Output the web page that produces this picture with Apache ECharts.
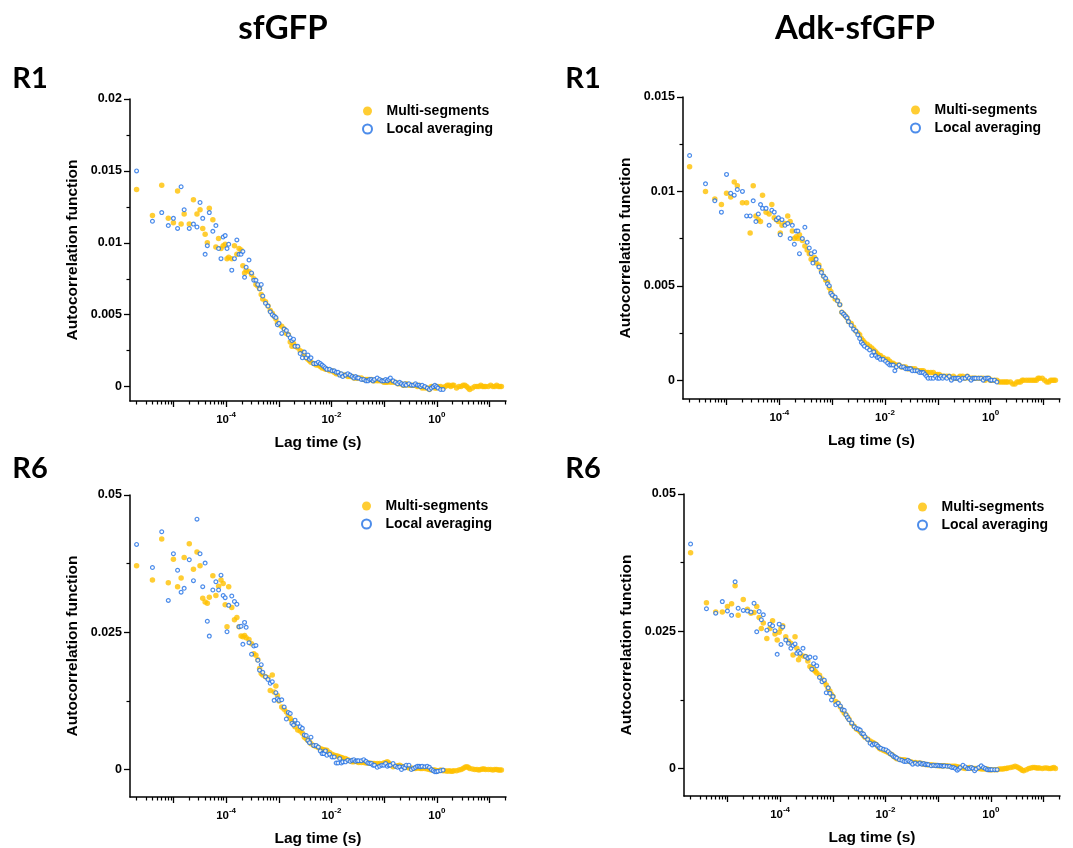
<!DOCTYPE html>
<html>
<head>
<meta charset="utf-8">
<script src="https://cdn.jsdelivr.net/npm/echarts@6/dist/echarts.min.js"></script>
<style>
html, body { margin: 0; padding: 0; background: #fff; }
#chart { width: 1073px; height: 848px; }
</style>
</head>
<body>
<div id="chart"></div>
<script>
// lag times of the correlator, in microseconds (8 channels per octave)
const lagMicros = [
    2, 4, 6, 8, 10, 12, 14, 16,
    20, 24, 28, 32, 36, 40, 44, 48,
    56, 64, 72, 80, 88, 96, 104, 112,
    128, 144, 160, 176, 192, 208, 224, 240,
    272, 304, 336, 368, 400, 432, 464, 496,
    560, 624, 688, 752, 816, 880, 944, 1008,
    1136, 1264, 1392, 1520, 1648, 1776, 1904, 2032,
    2288, 2544, 2800, 3056, 3312, 3568, 3824, 4080,
    4592, 5104, 5616, 6128, 6640, 7152, 7664, 8176,
    9200, 10224, 11248, 12272, 13296, 14320, 15344, 16368,
    18416, 20464, 22512, 24560, 26608, 28656, 30704, 32752,
    36848, 40944, 45040, 49136, 53232, 57328, 61424, 65520,
    73712, 81904, 90096, 98288, 106480, 114672, 122864, 131056,
    147440, 163824, 180208, 196592, 212976, 229360, 245744, 262128,
    294896, 327664, 360432, 393200, 425968, 458736, 491504, 524272,
    589808, 655344, 720880, 786416, 851952, 917488, 983024, 1048560,
    1179632, 1310704, 1441776, 1572848, 1703920, 1834992, 1966064, 2097136,
    2359280, 2621424, 2883568, 3145712, 3407856, 3670000, 3932144, 4194288,
    4718576, 5242864, 5767152, 6291440, 6815728, 7340016, 7864304, 8388592,
    9437168, 10485744, 11534320, 12582896, 13631472, 14680048, 15728624, 16777200
];

// sfGFP R1
const multiSfR1 = [
    0.0137, 0.0119, 0.0140, 0.0117, 0.0114, 0.0136, 0.0113, 0.0120,
    0.0113, 0.0130, 0.0120, 0.0123, 0.0110, 0.0106, 0.0100, 0.0124,
    0.0116, 0.0097, 0.0103, 0.0096, 0.0098, 0.0099, 0.0089, 0.0090,
    0.0089, 0.0098, 0.0092, 0.0096, 0.0095, 0.0084, 0.0079, 0.0081,
    0.0080, 0.0078, 0.0075, 0.0071, 0.0070, 0.0068, 0.0064, 0.0061,
    0.0059, 0.0056, 0.0053, 0.0051, 0.0049, 0.0047, 0.0044, 0.0043,
    0.0042, 0.0040, 0.0037, 0.0036, 0.0031, 0.0028, 0.0030, 0.0028,
    0.0027, 0.0025, 0.0024, 0.0022, 0.0020, 0.0019, 0.0018, 0.0017,
    0.0016, 0.0015, 0.0015, 0.0014, 0.0013, 0.0013, 0.0012, 0.0012,
    0.0011, 0.0011, 0.0010, 0.0009, 0.0009, 0.0009, 0.0008, 0.0008,
    0.0008, 0.0007, 0.0007, 0.0007, 0.0006, 0.0006, 0.0006, 0.0006,
    0.0006, 0.0005, 0.0005, 0.0005, 0.0005, 0.0005, 0.0004, 0.0004,
    0.0004, 0.0004, 0.0004, 0.0003, 0.0003, 0.0003, 0.0004, 0.0003,
    0.0003, 0.0003, 0.0002, 0.0002, 0.0002, 0.0001, 0.0001, 0.0002,
    0.0001, 0.0001, 0.0001, 0.0001, 0.0000, 0.0001, 0.0000, -0.0001,
    -0.0001, -0.0001, -0.0002, 0.0000, 0.0000, -0.0001, -0.0001, 0.0000,
    0.0000, -0.0001, 0.0000, 0.0001, 0.0001, 0.0000, 0.0001, 0.0001,
    -0.0001, 0.0000, 0.0000, 0.0001, 0.0001, 0.0000, -0.0001, -0.0002,
    -0.0001, 0.0000, 0.0000, 0.0000, 0.0001, 0.0000, 0.0000, 0.0000,
    0.0000, 0.0001, 0.0000, 0.0000, 0.0001, 0.0000, 0.0000, 0.0000
];
const localSfR1 = [
    0.0150, 0.0115, 0.0121, 0.0112, 0.0117, 0.0110, 0.0139, 0.0123,
    0.0110, 0.0113, 0.0111, 0.0128, 0.0117, 0.0092, 0.0098, 0.0121,
    0.0108, 0.0112, 0.0096, 0.0089, 0.0104, 0.0105, 0.0096, 0.0099,
    0.0081, 0.0089, 0.0102, 0.0092, 0.0092, 0.0094, 0.0076, 0.0083,
    0.0088, 0.0079, 0.0074, 0.0074, 0.0071, 0.0068, 0.0071, 0.0063,
    0.0058, 0.0056, 0.0052, 0.0050, 0.0049, 0.0048, 0.0043, 0.0044,
    0.0037, 0.0040, 0.0039, 0.0036, 0.0034, 0.0032, 0.0033, 0.0028,
    0.0028, 0.0023, 0.0020, 0.0024, 0.0020, 0.0022, 0.0019, 0.0020,
    0.0016, 0.0016, 0.0017, 0.0016, 0.0015, 0.0014, 0.0013, 0.0012,
    0.0012, 0.0011, 0.0011, 0.0010, 0.0010, 0.0008, 0.0009, 0.0007,
    0.0008, 0.0009, 0.0008, 0.0007, 0.0006, 0.0007, 0.0006, 0.0006,
    0.0005, 0.0005, 0.0004, 0.0004, 0.0005, 0.0005, 0.0004, 0.0005,
    0.0006, 0.0005, 0.0004, 0.0004, 0.0005, 0.0004, 0.0005, 0.0006,
    0.0004, 0.0003, 0.0002, 0.0003, 0.0002, 0.0001, 0.0002, 0.0001,
    0.0002, 0.0001, 0.0001, 0.0002, 0.0001, 0.0001, 0.0000, 0.0001,
    0.0000, -0.0001, -0.0002, -0.0001, 0.0000, 0.0001, 0.0000, -0.0001,
    -0.0002, -0.0002
];

// Adk-sfGFP R1
const multiAdkR1 = [
    0.0113, 0.0100, 0.0096, 0.0093, 0.0099, 0.0097, 0.0105, 0.0103,
    0.0094, 0.0094, 0.0078, 0.0103, 0.0087, 0.0085, 0.0084, 0.0098,
    0.0089, 0.0088, 0.0093, 0.0086, 0.0085, 0.0084, 0.0078, 0.0082,
    0.0083, 0.0087, 0.0084, 0.0079, 0.0075, 0.0076, 0.0075, 0.0077,
    0.0074, 0.0071, 0.0069, 0.0067, 0.0064, 0.0064, 0.0065, 0.0062,
    0.0061, 0.0058, 0.0055, 0.0053, 0.0052, 0.0049, 0.0047, 0.0045,
    0.0043, 0.0042, 0.0040, 0.0036, 0.0035, 0.0034, 0.0033, 0.0031,
    0.0030, 0.0028, 0.0026, 0.0025, 0.0024, 0.0022, 0.0021, 0.0020,
    0.0019, 0.0018, 0.0017, 0.0016, 0.0015, 0.0014, 0.0013, 0.0013,
    0.0012, 0.0011, 0.0011, 0.0010, 0.0009, 0.0009, 0.0008, 0.0008,
    0.0008, 0.0007, 0.0007, 0.0007, 0.0006, 0.0006, 0.0006, 0.0006,
    0.0006, 0.0005, 0.0005, 0.0005, 0.0005, 0.0004, 0.0004, 0.0004,
    0.0004, 0.0004, 0.0003, 0.0003, 0.0003, 0.0002, 0.0002, 0.0002,
    0.0002, 0.0002, 0.0001, 0.0002, 0.0001, 0.0001, 0.0001, 0.0002,
    0.0002, 0.0001, 0.0002, 0.0001, 0.0001, 0.0001, 0.0001, 0.0001,
    0.0001, 0.0001, 0.0001, 0.0000, 0.0001, 0.0001, 0.0000, 0.0000,
    0.0000, 0.0000, -0.0001, -0.0001, -0.0001, -0.0001, -0.0001, -0.0001,
    -0.0001, -0.0002, -0.0002, -0.0001, -0.0001, -0.0001, 0.0000, 0.0000,
    0.0000, 0.0000, 0.0000, 0.0000, 0.0000, 0.0000, 0.0001, 0.0001,
    0.0001, 0.0000, -0.0001, -0.0001, 0.0000, 0.0000, 0.0000, 0.0000
];
const localAdkR1 = [
    0.0119, 0.0104, 0.0095, 0.0089, 0.0109, 0.0099, 0.0098, 0.0101,
    0.0100, 0.0087, 0.0087, 0.0095, 0.0084, 0.0088, 0.0093, 0.0091,
    0.0091, 0.0082, 0.0090, 0.0089, 0.0085, 0.0086, 0.0077, 0.0085,
    0.0082, 0.0083, 0.0075, 0.0082, 0.0072, 0.0079, 0.0079, 0.0067,
    0.0075, 0.0081, 0.0073, 0.0070, 0.0067, 0.0062, 0.0068, 0.0064,
    0.0060, 0.0057, 0.0055, 0.0054, 0.0051, 0.0050, 0.0046, 0.0045,
    0.0044, 0.0042, 0.0040, 0.0036, 0.0035, 0.0034, 0.0033, 0.0031,
    0.0029, 0.0027, 0.0026, 0.0024, 0.0022, 0.0020, 0.0019, 0.0018,
    0.0017, 0.0016, 0.0013, 0.0015, 0.0013, 0.0012, 0.0012, 0.0011,
    0.0011, 0.0010, 0.0009, 0.0008, 0.0008, 0.0008, 0.0005, 0.0007,
    0.0008, 0.0007, 0.0007, 0.0006, 0.0006, 0.0006, 0.0006, 0.0005,
    0.0005, 0.0005, 0.0004, 0.0004, 0.0004, 0.0003, 0.0002, 0.0001,
    0.0001, 0.0001, 0.0002, 0.0001, 0.0001, 0.0002, 0.0001, 0.0002,
    0.0001, 0.0002, 0.0000, 0.0001, 0.0001, 0.0001, 0.0001, 0.0000,
    0.0001, 0.0001, 0.0002, 0.0001, 0.0000, 0.0001, 0.0001, 0.0001,
    0.0001, 0.0001, 0.0000, 0.0001, 0.0001, 0.0001, 0.0000, 0.0000,
    0.0000, -0.0001
];

// sfGFP R6
const multiSfR6 = [
    0.0371, 0.0345, 0.0420, 0.0340, 0.0383, 0.0333, 0.0349, 0.0386,
    0.0411, 0.0365, 0.0396, 0.0371, 0.0312, 0.0305, 0.0303, 0.0314,
    0.0353, 0.0317, 0.0334, 0.0345, 0.0339, 0.0300, 0.0260, 0.0333,
    0.0295, 0.0273, 0.0277, 0.0260, 0.0243, 0.0242, 0.0244, 0.0240,
    0.0237, 0.0229, 0.0211, 0.0208, 0.0200, 0.0184, 0.0175, 0.0172,
    0.0169, 0.0167, 0.0144, 0.0172, 0.0141, 0.0152, 0.0135, 0.0125,
    0.0114, 0.0110, 0.0105, 0.0099, 0.0093, 0.0088, 0.0084, 0.0078,
    0.0072, 0.0070, 0.0066, 0.0059, 0.0056, 0.0053, 0.0050, 0.0047,
    0.0044, 0.0042, 0.0040, 0.0038, 0.0037, 0.0036, 0.0035, 0.0035,
    0.0031, 0.0028, 0.0026, 0.0025, 0.0024, 0.0023, 0.0022, 0.0021,
    0.0020, 0.0018, 0.0016, 0.0014, 0.0014, 0.0015, 0.0014, 0.0013,
    0.0013, 0.0013, 0.0012, 0.0012, 0.0012, 0.0011, 0.0011, 0.0011,
    0.0011, 0.0011, 0.0010, 0.0012, 0.0013, 0.0014, 0.0012, 0.0009,
    0.0005, 0.0006, 0.0007, 0.0008, 0.0006, 0.0005, 0.0004, 0.0004,
    0.0003, 0.0003, 0.0002, 0.0002, 0.0003, 0.0003, 0.0002, 0.0002,
    0.0002, 0.0001, 0.0000, -0.0001, -0.0001, -0.0001, -0.0002, -0.0002,
    -0.0001, -0.0002, -0.0002, -0.0003, -0.0002, -0.0003, -0.0003, -0.0002,
    -0.0002, -0.0001, 0.0000, 0.0002, 0.0004, 0.0005, 0.0004, 0.0002,
    0.0001, 0.0000, 0.0000, -0.0001, 0.0000, 0.0001, 0.0001, 0.0000,
    0.0000, 0.0000, -0.0001, 0.0000, 0.0000, -0.0001, -0.0001, -0.0001
];
const localSfR6 = [
    0.0410, 0.0368, 0.0433, 0.0308, 0.0393, 0.0363, 0.0323, 0.0330,
    0.0382, 0.0344, 0.0456, 0.0393, 0.0333, 0.0376, 0.0270, 0.0243,
    0.0327, 0.0342, 0.0327, 0.0354, 0.0317, 0.0313, 0.0251, 0.0299,
    0.0316, 0.0306, 0.0301, 0.0260, 0.0261, 0.0228, 0.0268, 0.0259,
    0.0231, 0.0210, 0.0225, 0.0226, 0.0199, 0.0181, 0.0191, 0.0177,
    0.0169, 0.0164, 0.0157, 0.0160, 0.0126, 0.0140, 0.0129, 0.0126,
    0.0127, 0.0114, 0.0092, 0.0104, 0.0102, 0.0084, 0.0081, 0.0090,
    0.0084, 0.0078, 0.0075, 0.0063, 0.0062, 0.0053, 0.0049, 0.0059,
    0.0044, 0.0044, 0.0041, 0.0034, 0.0029, 0.0029, 0.0034, 0.0026,
    0.0028, 0.0023, 0.0023, 0.0012, 0.0012, 0.0020, 0.0012, 0.0014,
    0.0014, 0.0017, 0.0015, 0.0017, 0.0018, 0.0015, 0.0016, 0.0016,
    0.0016, 0.0018, 0.0015, 0.0012, 0.0011, 0.0011, 0.0008, 0.0008,
    0.0004, 0.0006, 0.0008, 0.0008, 0.0011, 0.0006, 0.0008, 0.0008,
    0.0011, 0.0006, 0.0004, 0.0005, 0.0000, 0.0005, 0.0003, 0.0008,
    0.0008, 0.0000, 0.0002, 0.0004, 0.0006, 0.0006, 0.0005, 0.0006,
    0.0005, 0.0006, 0.0004, 0.0000, -0.0002, -0.0004, -0.0004, -0.0003,
    -0.0002, -0.0001
];

// Adk-sfGFP R6
const multiAdkR6 = [
    0.0393, 0.0302, 0.0285, 0.0285, 0.0295, 0.0300, 0.0333, 0.0279,
    0.0308, 0.0290, 0.0283, 0.0284, 0.0295, 0.0275, 0.0255, 0.0265,
    0.0237, 0.0255, 0.0269, 0.0245, 0.0234, 0.0248, 0.0255, 0.0260,
    0.0240, 0.0232, 0.0228, 0.0207, 0.0240, 0.0219, 0.0198, 0.0207,
    0.0205, 0.0204, 0.0196, 0.0186, 0.0183, 0.0180, 0.0177, 0.0174,
    0.0170, 0.0163, 0.0158, 0.0152, 0.0146, 0.0141, 0.0135, 0.0131,
    0.0122, 0.0119, 0.0112, 0.0106, 0.0101, 0.0098, 0.0094, 0.0090,
    0.0082, 0.0077, 0.0072, 0.0070, 0.0067, 0.0064, 0.0060, 0.0057,
    0.0054, 0.0050, 0.0048, 0.0046, 0.0044, 0.0040, 0.0037, 0.0035,
    0.0033, 0.0031, 0.0029, 0.0027, 0.0025, 0.0022, 0.0020, 0.0018,
    0.0017, 0.0016, 0.0016, 0.0015, 0.0014, 0.0013, 0.0012, 0.0011,
    0.0011, 0.0010, 0.0010, 0.0009, 0.0008, 0.0008, 0.0007, 0.0007,
    0.0007, 0.0006, 0.0006, 0.0005, 0.0005, 0.0005, 0.0005, 0.0005,
    0.0005, 0.0004, 0.0004, 0.0004, 0.0004, 0.0003, 0.0003, 0.0002,
    0.0001, 0.0000, 0.0001, 0.0002, 0.0001, 0.0000, 0.0000, 0.0000,
    0.0000, -0.0001, -0.0001, -0.0001, -0.0001, -0.0002, -0.0002, -0.0002,
    -0.0002, -0.0002, -0.0001, -0.0001, -0.0001, 0.0000, 0.0000, 0.0001,
    0.0002, 0.0003, 0.0004, 0.0003, 0.0001, -0.0001, -0.0003, -0.0004,
    -0.0002, 0.0000, 0.0001, 0.0002, 0.0002, 0.0001, 0.0001, 0.0001,
    0.0000, 0.0001, 0.0001, 0.0000, 0.0000, 0.0001, 0.0002, 0.0000
];
const localAdkR6 = [
    0.0409, 0.0291, 0.0283, 0.0304, 0.0287, 0.0279, 0.0340, 0.0292,
    0.0288, 0.0287, 0.0285, 0.0301, 0.0249, 0.0286, 0.0271, 0.0280,
    0.0252, 0.0263, 0.0260, 0.0251, 0.0208, 0.0263, 0.0226, 0.0258,
    0.0234, 0.0228, 0.0219, 0.0224, 0.0227, 0.0210, 0.0213, 0.0210,
    0.0219, 0.0204, 0.0201, 0.0203, 0.0181, 0.0191, 0.0202, 0.0187,
    0.0166, 0.0158, 0.0161, 0.0138, 0.0147, 0.0137, 0.0125, 0.0131,
    0.0116, 0.0119, 0.0114, 0.0107, 0.0106, 0.0098, 0.0093, 0.0089,
    0.0083, 0.0076, 0.0073, 0.0072, 0.0070, 0.0064, 0.0063, 0.0058,
    0.0053, 0.0046, 0.0043, 0.0045, 0.0044, 0.0041, 0.0038, 0.0037,
    0.0035, 0.0034, 0.0031, 0.0027, 0.0025, 0.0022, 0.0021, 0.0019,
    0.0016, 0.0015, 0.0013, 0.0013, 0.0015, 0.0013, 0.0011, 0.0008,
    0.0010, 0.0008, 0.0010, 0.0008, 0.0009, 0.0007, 0.0008, 0.0007,
    0.0005, 0.0006, 0.0005, 0.0006, 0.0005, 0.0005, 0.0004, 0.0005,
    0.0004, 0.0004, 0.0002, 0.0002, 0.0000, -0.0003, -0.0001, 0.0002,
    0.0006, 0.0003, 0.0000, 0.0000, 0.0002, 0.0000, -0.0004, -0.0001,
    0.0002, 0.0005, 0.0002, 0.0000, -0.0002, -0.0002, -0.0002, -0.0002,
    -0.0002, -0.0002
];

// axis ticks
const yTicksR1Sf = [0, 0.005, 0.01, 0.015, 0.02];
const yTicksR1Adk = [0, 0.005, 0.01, 0.015];
const yTicksR6 = [0, 0.025, 0.05];
const xLabelTicks = [1e-4, 1e-2, 1];
const xMajorTicks = [1e-5, 1e-4, 1e-3, 1e-2, 1e-1, 1, 10];

const xMin = 1.5e-6;
const xMax = 20.5;
const xMinorTicks = [];
for (let e = -6; e <= 1; e++) {
    for (let m = 2; m <= 9; m++) {
        const v = m * Math.pow(10, e);
        if (v >= xMin && v <= xMax) {
            xMinorTicks.push(v);
        }
    }
}
// minor y ticks sit halfway between the labelled ones
function halfSteps(ticks) {
    const out = [];
    for (let i = 1; i < ticks.length; i++) {
        out.push((ticks[i - 1] + ticks[i]) / 2);
    }
    return out;
}

const lagTimes = lagMicros.map((t) => t * 1e-6);

const panels = [
    { grid: { left: 130, top: 99, width: 376, height: 302 }, yMin: -0.001, yMax: 0.02, yTicks: yTicksR1Sf,
        multi: multiSfR1, local: localSfR1, legend: { left: 362, top: 104 } },
    { grid: { left: 683, top: 97, width: 377, height: 302 }, yMin: -0.001, yMax: 0.015, yTicks: yTicksR1Adk,
        multi: multiAdkR1, local: localAdkR1, legend: { left: 910, top: 103 } },
    { grid: { left: 130, top: 495, width: 376, height: 302 }, yMin: -0.005, yMax: 0.05, yTicks: yTicksR6,
        multi: multiSfR6, local: localSfR6, legend: { left: 361, top: 499 } },
    { grid: { left: 684, top: 494, width: 376, height: 302 }, yMin: -0.005, yMax: 0.05, yTicks: yTicksR6,
        multi: multiAdkR6, local: localAdkR6, legend: { left: 917, top: 500 } },
];

const axisFont = 'Liberation Sans, Arial, sans-serif';
const headFont = 'Lato, Open Sans, sans-serif';
const black = '#000000';

const chart = echarts.init(document.getElementById('chart'), null, { renderer: 'canvas' });

const grid = [];
const xAxis = [];
const yAxis = [];
const legend = [];
const series = [];

panels.forEach((p, i) => {
    grid.push(Object.assign({ containLabel: false, outerBoundsMode: 'none' }, p.grid));
    // main log axis: decade ticks, labels on even decades
    xAxis.push({
        type: 'log',
        gridIndex: i,
        min: xMin,
        max: xMax,
        position: 'bottom',
        name: 'Lag time (s)',
        nameLocation: 'middle',
        nameGap: 34,
        nameTextStyle: { color: black, fontFamily: axisFont, fontWeight: 'bold', fontSize: 15.5 },
        axisLine: { show: true, onZero: false, lineStyle: { color: black, width: 1.5 } },
        axisTick: { show: true, length: 6, customValues: xMajorTicks, lineStyle: { color: black, width: 1.3 } },
        axisLabel: {
            show: true,
            margin: 10,
            customValues: xLabelTicks,
            formatter: (v) => '{b|10}{s|' + Math.round(Math.log10(v)) + '}',
            rich: {
                b: { fontFamily: axisFont, fontWeight: 'bold', fontSize: 11.5, color: black, lineHeight: 15, verticalAlign: 'bottom' },
                s: { fontFamily: axisFont, fontWeight: 'bold', fontSize: 8, color: black, verticalAlign: 'top' },
            },
        },
        splitLine: { show: false },
        minorTick: { show: false },
    });
    // second log axis, only for the 2..9 minor ticks
    xAxis.push({
        type: 'log',
        gridIndex: i,
        min: xMin,
        max: xMax,
        position: 'bottom',
        axisLine: { show: false, onZero: false },
        axisTick: { show: true, length: 3.5, customValues: xMinorTicks, lineStyle: { color: black, width: 1.2 } },
        axisLabel: { show: false },
        splitLine: { show: false },
    });
    yAxis.push({
        type: 'value',
        gridIndex: i,
        min: p.yMin,
        max: p.yMax,
        position: 'left',
        name: 'Autocorrelation function',
        nameLocation: 'middle',
        nameGap: 49,
        nameTextStyle: { color: black, fontFamily: axisFont, fontWeight: 'bold', fontSize: 15.5 },
        axisLine: { show: true, onZero: false, lineStyle: { color: black, width: 1.5 } },
        axisTick: { show: true, length: 6, customValues: p.yTicks, lineStyle: { color: black, width: 1.3 } },
        axisLabel: {
            show: true,
            margin: 8,
            customValues: p.yTicks,
            color: black,
            fontFamily: axisFont,
            fontWeight: 'bold',
            fontSize: 12.5,
            formatter: (v) => String(+v.toFixed(4)),
        },
        splitLine: { show: false },
    });
    yAxis.push({
        type: 'value',
        gridIndex: i,
        min: p.yMin,
        max: p.yMax,
        position: 'left',
        axisLine: { show: false, onZero: false },
        axisTick: { show: true, length: 3.5, customValues: halfSteps(p.yTicks), lineStyle: { color: black, width: 1.2 } },
        axisLabel: { show: false },
        splitLine: { show: false },
    });
    legend.push({
        orient: 'vertical',
        left: p.legend.left,
        top: p.legend.top,
        padding: 0,
        itemGap: 4,
        itemWidth: 28,
        itemHeight: 9,
        selectedMode: false,
        data: ['Multi-segments', 'Local averaging'],
        textStyle: { color: black, fontFamily: axisFont, fontWeight: 'bold', fontSize: 14 },
    });
    series.push({
        name: 'Multi-segments',
        type: 'scatter',
        xAxisIndex: i * 2,
        yAxisIndex: i * 2,
        symbol: 'circle',
        symbolSize: 5.5,
        silent: true,
        itemStyle: { color: '#FFC000' },
        data: p.multi.map((v, k) => [lagTimes[k], v]),
    });
    series.push({
        name: 'Local averaging',
        type: 'scatter',
        xAxisIndex: i * 2,
        yAxisIndex: i * 2,
        symbol: 'circle',
        symbolSize: 3.8,
        silent: true,
        itemStyle: { color: '#ffffff', borderColor: '#1F6FE5', borderWidth: 1.2 },
        data: p.local.map((v, k) => [lagTimes[k], v]),
    });
});

function headText(text, x, y, size) {
    return {
        type: 'text',
        x: x,
        y: y,
        style: {
            text: text,
            fill: black,
            font: 'bold ' + size + 'px ' + headFont,
            align: 'center',
            verticalAlign: 'middle',
            textAlign: 'center',
            textVerticalAlign: 'middle',
        },
    };
}

const option = {
    backgroundColor: '#ffffff',
    animation: false,
    grid: grid,
    xAxis: xAxis,
    yAxis: yAxis,
    legend: legend,
    series: series,
    graphic: [
        headText('sfGFP', 283, 28, 33),
        headText('Adk-sfGFP', 855, 28, 33),
        headText('R1', 30, 79, 29),
        headText('R1', 583, 79, 29),
        headText('R6', 30, 469, 29),
        headText('R6', 583, 469, 29),
    ],
};

chart.setOption(option);
</script>
</body>
</html>
